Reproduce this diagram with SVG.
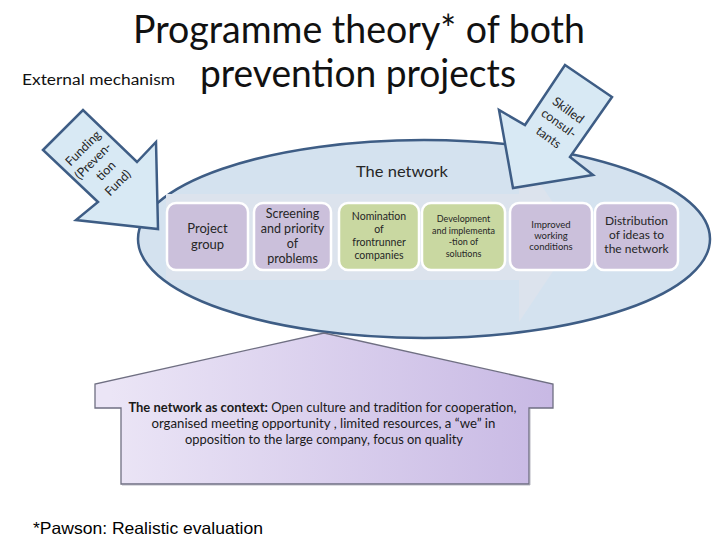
<svg xmlns="http://www.w3.org/2000/svg" width="720" height="540" viewBox="0 0 720 540">
<defs>
<style>
.cal{font-family:Lato,"Open Sans","Liberation Sans",sans-serif;fill:#262626}
.node{stroke:#ffffff;stroke-width:2.5}
.purple{fill:#cbc0db}
.green{fill:#c9d8a1}
.ext{fill:#d8e9f4;stroke:#3e5d85;stroke-width:2.5;stroke-linejoin:miter}
.mid{text-anchor:middle}
</style>
<linearGradient id="ctx" gradientUnits="userSpaceOnUse" x1="110" y1="0" x2="550" y2="0">
<stop offset="0" stop-color="#ebe5f6"/>
<stop offset="1" stop-color="#c8b9e4"/>
</linearGradient>
</defs>
<rect width="720" height="540" fill="#ffffff"/>

<g id="title">
<text class="cal" x="359" y="43" font-size="38" text-anchor="middle" textLength="452" lengthAdjust="spacingAndGlyphs" style="fill:#111">Programme theory* of both</text>
<text class="cal" x="358" y="87" font-size="38" text-anchor="middle" textLength="316" lengthAdjust="spacingAndGlyphs" style="fill:#111">prevention projects</text>
<text class="cal" x="22" y="85" font-size="14.5" textLength="153" lengthAdjust="spacingAndGlyphs" style="fill:#111">External mechanism</text>
</g>

<g id="network">
<ellipse cx="424" cy="239" rx="286" ry="99" fill="#d4e2ef" stroke="#3e5d85" stroke-width="2.5"/>
<text class="cal mid" x="402" y="177" font-size="14.5" textLength="92" lengthAdjust="spacingAndGlyphs">The network</text>
</g>

<g id="connectors">
<polygon id="process-arrow" points="166,194 519,194 519,152 576,237 519,322 519,280 166,280" fill="#dce3ed"/>
</g>

<g id="node-project-group">
<rect class="node purple" x="167" y="203" width="81" height="67" rx="9"/>
<text class="cal mid" font-size="13"><tspan x="207.5" y="233">Project</tspan><tspan x="207.5" y="249">group</tspan></text>
</g>
<g id="node-screening">
<rect class="node purple" x="254" y="203" width="77" height="67" rx="9"/>
<text class="cal mid" font-size="12.5"><tspan x="292.5" y="218">Screening</tspan><tspan x="292.5" y="233">and priority</tspan><tspan x="292.5" y="248">of</tspan><tspan x="292.5" y="263">problems</tspan></text>
</g>
<g id="node-nomination">
<rect class="node green" x="339" y="203" width="80" height="67" rx="9"/>
<text class="cal mid" font-size="10.5"><tspan x="379" y="220">Nomination</tspan><tspan x="379" y="233">of</tspan><tspan x="379" y="246">frontrunner</tspan><tspan x="379" y="259">companies</tspan></text>
</g>
<g id="node-development">
<rect class="node green" x="422" y="203" width="83" height="67" rx="9"/>
<text class="cal mid" font-size="9"><tspan x="463.5" y="222">Development</tspan><tspan x="463.5" y="233.5">and implementa</tspan><tspan x="463.5" y="245">-tion of</tspan><tspan x="463.5" y="256.5">solutions</tspan></text>
</g>
<g id="node-improved">
<rect class="node purple" x="510" y="203" width="82" height="67" rx="9"/>
<text class="cal mid" font-size="9.5"><tspan x="551" y="228">Improved</tspan><tspan x="551" y="239">working</tspan><tspan x="551" y="250">conditions</tspan></text>
</g>
<g id="node-distribution">
<rect class="node purple" x="595" y="203" width="83" height="67" rx="9"/>
<text class="cal mid" font-size="12"><tspan x="636.5" y="225">Distribution</tspan><tspan x="636.5" y="239">of ideas to</tspan><tspan x="636.5" y="253">the network</tspan></text>
</g>

<g id="funding">
<polygon class="ext" points="43,150 83,110 137,162 156,142 158,229 76,220 98,202"/>
<g transform="translate(101,166) rotate(-45)">
<text class="cal mid" font-size="12.5"><tspan x="0" y="-21">Funding</tspan><tspan x="-2" y="-5">(Preven-</tspan><tspan x="0" y="11">tion</tspan><tspan x="0" y="28">Fund)</tspan></text>
</g>
</g>

<g id="skilled-consultants">
<polygon class="ext" points="565,65 612,97 570,157 593,175 513,188 499,110 525,125"/>
<g transform="translate(559,123) rotate(36)">
<text class="cal mid" font-size="12.5"><tspan x="0" y="-11.5">Skilled</tspan><tspan x="0" y="4.5">consul-</tspan><tspan x="0" y="22">tants</tspan></text>
</g>
</g>

<g id="context">
<polygon points="324,333 553,384 553,408 529,408 529,484 121,484 121,408 95,408 95,384" fill="url(#ctx)" stroke="#6f6f82" stroke-width="1.3"/>
<polyline points="530,409 530,485 122,485" fill="none" stroke="#8a8a99" stroke-width="1" opacity="0.6"/>
<text class="cal mid" font-size="12.5" style="fill:#1a1a1a">
<tspan x="324" y="412" textLength="388" lengthAdjust="spacingAndGlyphs"><tspan font-weight="bold">The network as context:</tspan> Open culture and tradition for cooperation,</tspan>
<tspan x="325" y="428" textLength="344" lengthAdjust="spacingAndGlyphs">organised meeting opportunity , limited resources, a “we” in</tspan>
<tspan x="324" y="444" textLength="278" lengthAdjust="spacingAndGlyphs">opposition to the large company, focus on quality</tspan>
</text>
</g>

<g id="footnote">
<text x="33" y="534" font-family="'Liberation Sans',Arial,sans-serif" font-size="16.5" fill="#000" textLength="230" lengthAdjust="spacingAndGlyphs">*Pawson: Realistic evaluation</text>
</g>
</svg>
